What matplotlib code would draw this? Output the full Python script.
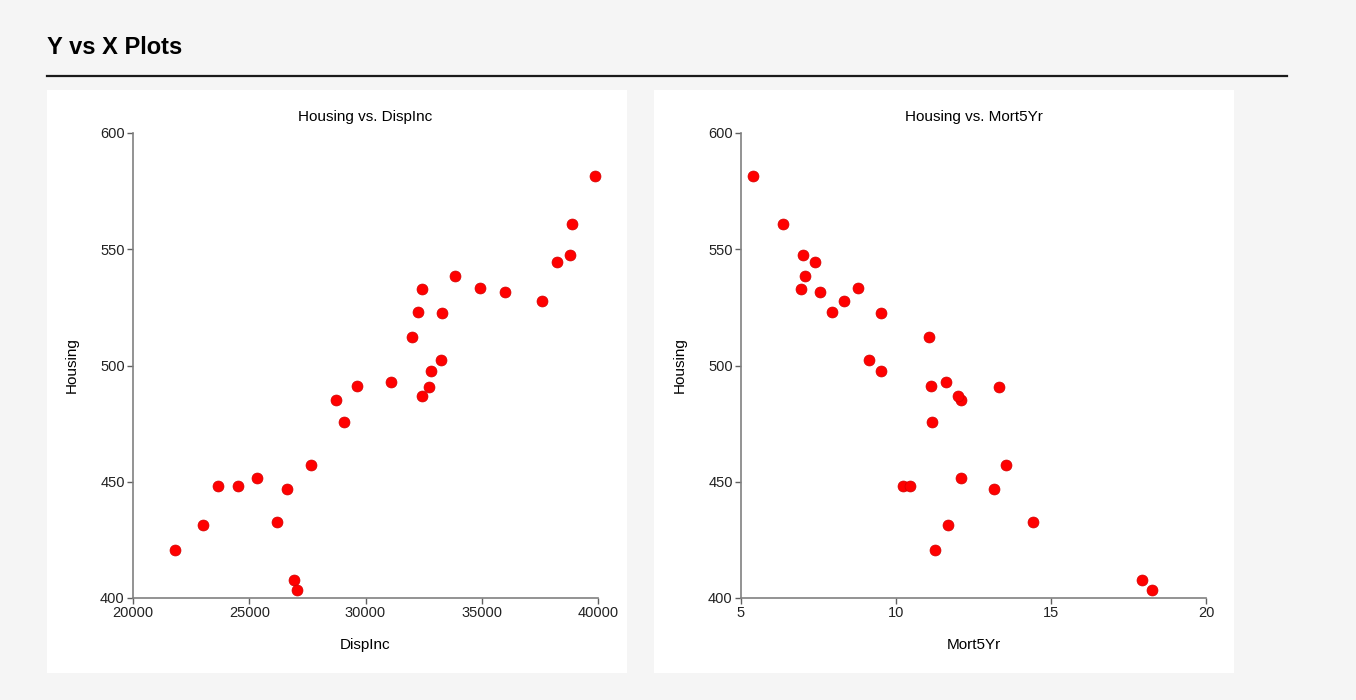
import matplotlib
matplotlib.use("Agg")
import matplotlib.pyplot as plt
from matplotlib.patches import Rectangle
from matplotlib.lines import Line2D

plt.rcParams['font.family'] = ['Liberation Sans', 'DejaVu Sans']

# data (same Housing values in both plots)
housing = [581.3, 560.9, 547.5, 544.7, 538.4, 533.0, 533.4, 531.7, 527.9, 522.8,
           522.5, 512.2, 502.4, 497.6, 493.1, 491.1, 490.8, 485.3, 487.0, 475.7,
           457.2, 448.0, 448.0, 451.4, 446.9, 431.5, 432.5, 420.8, 407.9, 403.3]
disp_inc = [39892, 38903, 38817, 38241, 33856, 32438, 34918, 35992, 37583, 32239,
            33271, 31994, 33254, 32798, 31091, 29643, 32712, 28727, 32424, 29084,
            27665, 23641, 24501, 25331, 26607, 22996, 26177, 21819, 26908, 27037]
mort5yr = [5.39, 6.37, 7.00, 7.38, 7.06, 6.92, 8.77, 7.55, 8.33, 7.92,
           9.50, 11.08, 9.14, 9.53, 11.60, 11.13, 13.31, 12.10, 12.01, 11.17,
           13.55, 10.22, 10.46, 12.11, 13.17, 11.68, 14.43, 11.27, 17.94, 18.25]

W, H = 1356, 700
fig = plt.figure(figsize=(W / 100, H / 100), dpi=100)
fig.patch.set_facecolor('#f5f5f5')

def fx(px):
    return px / W

def fy(py):
    return 1 - py / H

# header
fig.text(fx(47), fy(48), "Y vs X Plots", fontsize=17, fontweight='bold',
         ha='left', va='center', color='black')
fig.add_artist(Line2D([fx(47), fx(1287)], [fy(76), fy(76)], color='#1a1a1a', lw=1.6))

# white panels
for x0 in (47, 654):
    fig.add_artist(Rectangle((fx(x0), fy(673)), fx(580), (673 - 90) / H,
                             facecolor='white', edgecolor='none', zorder=0))

def scatter_panel(left_px, xs, xlim, xticks, xlabel, title):
    ax = fig.add_axes([fx(left_px), fy(598), 465 / W, 465 / H])
    ax.set_facecolor('white')
    ax.scatter(xs, housing, s=62, color='#ff0000', edgecolors='#d00000',
               linewidths=0.5, zorder=3, clip_on=False)
    ax.set_xlim(*xlim)
    ax.set_ylim(400, 600)
    ax.set_xticks(xticks)
    ax.set_yticks([400, 450, 500, 550, 600])
    for s in ('top', 'right'):
        ax.spines[s].set_visible(False)
    for s in ('left', 'bottom'):
        ax.spines[s].set_color('#808080')
        ax.spines[s].set_linewidth(1.2)
    ax.tick_params(length=4, width=1, color='#606060', labelsize=10.5,
                   labelcolor='#222222', pad=2)
    ax.set_xlabel(xlabel, fontsize=11, labelpad=13)
    ax.set_ylabel("Housing", fontsize=11, labelpad=15)
    ax.set_title(title, fontsize=11, pad=8.5)
    return ax

scatter_panel(133, disp_inc, (20000, 40000), [20000, 25000, 30000, 35000, 40000],
              "DispInc", "Housing vs. DispInc")
scatter_panel(741, mort5yr, (5, 20), [5, 10, 15, 20],
              "Mort5Yr", "Housing vs. Mort5Yr")

fig.savefig("out.png", dpi=100, facecolor=fig.get_facecolor())
